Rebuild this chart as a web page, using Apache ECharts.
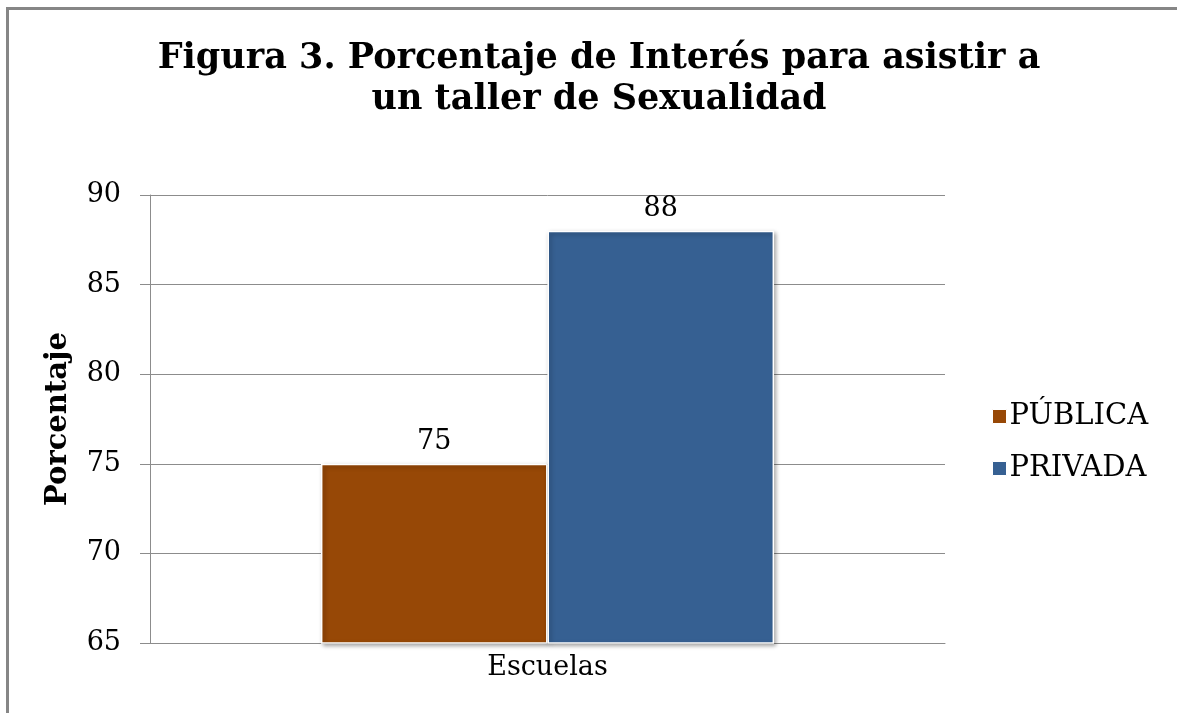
<!DOCTYPE html>
<html>
<head>
<meta charset="utf-8">
<script src="https://cdn.jsdelivr.net/npm/echarts@6/dist/echarts.min.js"></script>
<style>
  html, body { margin: 0; padding: 0; background: #fff; }
  #chart { width: 1177px; height: 713px; }
</style>
</head>
<body>
<div id="chart"></div>
<script>
const categories = ['Escuelas'];
const seriesNames = ['PÚBLICA', 'PRIVADA'];
const publica = [75];
const privada = [88];
const colors = ['#974806', '#366092'];

const serif = '"DejaVu Serif", "Liberation Serif", serif';

const myChart = echarts.init(document.getElementById('chart'));

const barItem = (c) => ({
  color: c,
  borderColor: '#ffffff',
  borderWidth: 1.5,
  shadowColor: 'rgba(0,0,0,0.35)',
  shadowBlur: 4,
  shadowOffsetX: 2,
  shadowOffsetY: 2
});

const labelStyle = {
  show: true,
  position: 'top',
  distance: 8,
  color: '#000',
  fontFamily: serif,
  fontSize: 27
};

const option = {
  backgroundColor: '#fff',
  animation: false,
  title: {
    text: 'Figura 3. Porcentaje de Interés para asistir a\nun taller de Sexualidad',
    left: 594,
    top: 33,
    textAlign: 'center',
    textStyle: {
      fontFamily: serif,
      fontWeight: 'bold',
      fontSize: 35,
      lineHeight: 41,
      color: '#000'
    }
  },
  legend: {
    orient: 'vertical',
    left: 987,
    top: 397,
    itemWidth: 14,
    itemHeight: 14,
    itemGap: 23,
    icon: 'rect',
    itemStyle: { borderColor: '#ffffff', borderWidth: 1 },
    textStyle: {
      fontFamily: serif,
      fontSize: 29,
      color: '#000',
      padding: [0, 0, 0, -2]
    },
    data: seriesNames
  },
  graphic: [{
    type: 'rect',
    shape: { x: 7.5, y: 8.5, width: 1200, height: 800 },
    style: { fill: 'none', stroke: '#868686', lineWidth: 3 },
    silent: true
  }],
  grid: {
    left: 150,
    right: 232,
    top: 195,
    bottom: 70
  },
  xAxis: {
    type: 'category',
    data: categories,
    axisLine: { show: true, lineStyle: { color: '#8c8c8c', width: 1 } },
    axisTick: { show: false },
    axisLabel: {
      margin: 11,
      color: '#000',
      fontFamily: serif,
      fontSize: 27
    }
  },
  yAxis: {
    type: 'value',
    min: 65,
    max: 90,
    interval: 5,
    name: 'Porcentaje',
    nameLocation: 'middle',
    nameGap: 77,
    nameRotate: 90,
    nameTextStyle: {
      fontFamily: serif,
      fontWeight: 'bold',
      fontSize: 29,
      color: '#000'
    },
    axisLine: { show: true, lineStyle: { color: '#8c8c8c', width: 1 } },
    axisTick: { show: true, length: 10, lineStyle: { color: '#8c8c8c' } },
    axisLabel: {
      margin: 29,
      color: '#000',
      fontFamily: serif,
      fontSize: 27
    },
    splitLine: { show: true, lineStyle: { color: '#8c8c8c', width: 1 } }
  },
  series: [
    {
      name: seriesNames[0],
      type: 'bar',
      data: publica,
      barGap: '0%',
      barCategoryGap: '43%',
      itemStyle: barItem(colors[0]),
      label: labelStyle
    },
    {
      name: seriesNames[1],
      type: 'bar',
      data: privada,
      barGap: '0%',
      barCategoryGap: '43%',
      itemStyle: barItem(colors[1]),
      label: labelStyle
    }
  ]
};

myChart.setOption(option);
</script>
</body>
</html>
